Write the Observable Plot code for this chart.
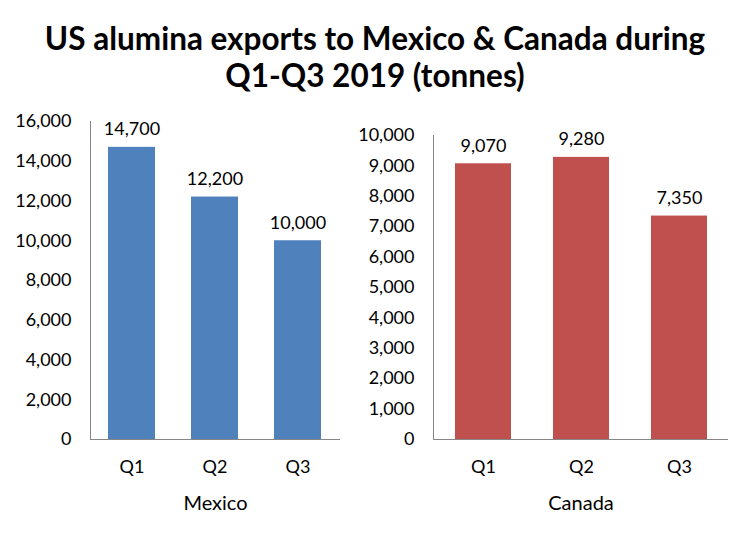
<!DOCTYPE html>
<html>
<head>
<meta charset="utf-8">
<script src="https://cdn.jsdelivr.net/npm/d3@7"></script>
<script src="https://cdn.jsdelivr.net/npm/@observablehq/plot@0.6"></script>
<style>
  html, body { margin: 0; padding: 0; background: #fff; }
  #wrap { position: relative; width: 750px; height: 555px; font-family: Lato, "Open Sans", sans-serif; }
  #title { position: absolute; left: 0; top: 20px; width: 750px; text-align: center; font-weight: bold; font-size: 31.5px; line-height: 37px; color: #000; }
  #left { position: absolute; left: 0; top: 100px; }
  #right { position: absolute; left: 335px; top: 100px; }
</style>
</head>
<body>
<div id="wrap">
  <div id="title">US alumina exports to Mexico &amp; Canada during<br>Q1-Q3 2019 (tonnes)</div>
  <div id="left"></div>
  <div id="right"></div>
</div>
<script>
const quarters = ["Q1", "Q2", "Q3"];
const mexicoValues = [14700, 12200, 10000];
const canadaValues = [9070, 9280, 7350];
const mexicoTicks = [0, 2000, 4000, 6000, 8000, 10000, 12000, 14000, 16000];
const canadaTicks = [0, 1000, 2000, 3000, 4000, 5000, 6000, 7000, 8000, 9000, 10000];

const fmt = d3.format(",");

function panel({values, ticks, max, color, label, width, marginLeft, marginRight, marginTop}) {
  const data = quarters.map((q, i) => ({q, v: values[i]}));
  const chart = Plot.plot({
    width,
    height: 420,
    marginLeft, marginRight, marginTop,
    marginBottom: 81,
    style: {fontFamily: "Lato, 'Open Sans', sans-serif", fontSize: "18px", color: "#000", background: "transparent"},
    x: {domain: quarters, paddingInner: 0.43, paddingOuter: 0.215, label: null},
    y: {domain: [0, max], label: null},
    marks: [
      Plot.barY(data, {x: "q", y: "v", fill: color}),
      Plot.ruleY([0], {stroke: "#868686", strokeWidth: 1}),
      Plot.text(data, {x: "q", y: "v", text: d => fmt(d.v), lineAnchor: "bottom", dy: -12, fontSize: 18, fill: "#000"}),
      Plot.axisY({ticks, tickFormat: fmt, tickSize: 0, tickPadding: 19, label: null, fontSize: 18}),
      Plot.axisX({tickSize: 0, tickPadding: 21, label: null, fontSize: 18}),
      Plot.text([label], {frameAnchor: "bottom", dy: 70, fontSize: 20, fill: "#000"})
    ]
  });
  // vertical axis line drawn from the plot's own scales
  const xs = chart.scale("x"), ys = chart.scale("y");
  const ns = "http://www.w3.org/2000/svg";
  const line = document.createElementNS(ns, "line");
  line.setAttribute("x1", xs.range[0] + 0.5);
  line.setAttribute("x2", xs.range[0] + 0.5);
  line.setAttribute("y1", ys.range[0]);
  line.setAttribute("y2", ys.range[1]);
  line.setAttribute("stroke", "#868686");
  chart.appendChild(line);
  return chart;
}

document.getElementById("left").appendChild(panel({
  values: mexicoValues, ticks: mexicoTicks, max: 16000, color: "#4F81BD", label: "Mexico",
  width: 375, marginLeft: 90, marginRight: 35, marginTop: 21
}));
document.getElementById("right").appendChild(panel({
  values: canadaValues, ticks: canadaTicks, max: 10000, color: "#C0504D", label: "Canada",
  width: 415, marginLeft: 98, marginRight: 22, marginTop: 35
}));
</script>
</body>
</html>
